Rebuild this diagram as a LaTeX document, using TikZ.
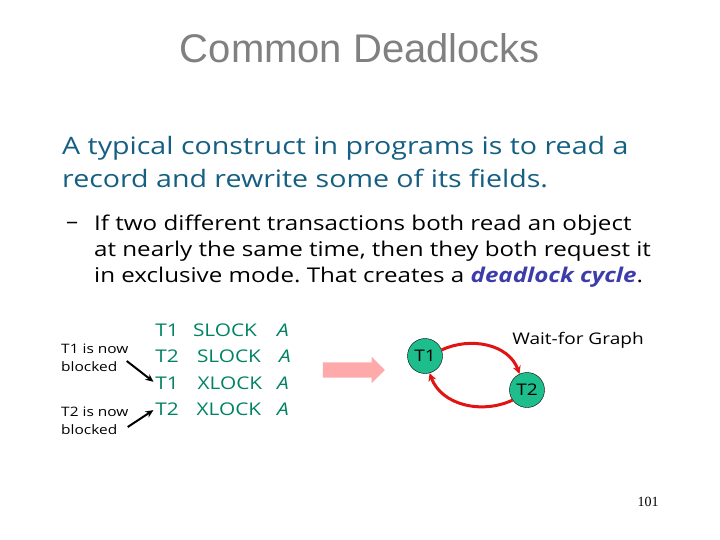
\documentclass[tikz,border=0pt]{standalone}
\usepackage{fontspec}
\setmainfont{Open Sans}[FakeStretch=1.19]
\newfontfamily\titlefont{Liberation Sans}
\newfontfamily\pagefont{Liberation Serif}
\usetikzlibrary{arrows.meta,shapes.arrows}
\frenchspacing

\definecolor{titlegray}{RGB}{128,128,128}
\definecolor{bodyblue}{RGB}{20,95,130}
\definecolor{lockgreen}{RGB}{0,130,100}
\definecolor{nodegreen}{RGB}{30,190,140}
\definecolor{cycleblue}{RGB}{60,60,170}
\definecolor{pinkarrow}{RGB}{255,170,170}
\definecolor{edgered}{RGB}{225,20,20}

\begin{document}
\begin{tikzpicture}[x=1pt, y=-1pt]
	% Stili per testi, nodi e archi
	\tikzset{
		testo/.style={anchor=west, inner sep=0pt},
		riga/.style={inner sep=0pt, text=lockgreen, font=\fontsize{17.5}{20}\selectfont},
		nota/.style={anchor=west, inner sep=0pt, align=left, font=\fontsize{13}{18}\selectfont},
		nodo/.style={circle, draw=black, fill=nodegreen, minimum size=35pt, inner sep=0pt, font=\fontsize{16}{18}\selectfont},
		attesa/.style={draw=edgered, line width=3pt, -{Stealth[length=8pt,width=8pt]}},
		blocco/.style={draw=black, line width=2pt, -{Stealth[length=8pt,width=7pt]}, shorten >=2pt}
	}
	\useasboundingbox (0,0) rectangle (720,540);
	
	% Titolo
	\node[inner sep=0pt, text=titlegray, font=\titlefont\fontsize{40}{44}\selectfont] (titolo) at (360,48) {Common Deadlocks};
	
	% Testo principale
	\node[testo, text=bodyblue, font=\fontsize{24}{26}\selectfont] (corpo1) at (62,148) {A typical construct in programs is to read a};
	\node[testo, text=bodyblue, font=\fontsize{24}{26}\selectfont] (corpo2) at (62,178) {record and rewrite some of its fields.};
	\node[testo, font=\fontsize{20.3}{22}\selectfont] (trattino) at (66,225) {–};
	\node[testo, font=\fontsize{20.3}{22}\selectfont] (punto1) at (94,225) {If two different transactions both read an object};
	\node[testo, font=\fontsize{20.3}{22}\selectfont] (punto2) at (94,251) {at nearly the same time, then they both request it};
	\node[testo, font=\fontsize{20.3}{22}\selectfont] (punto3) at (94,277) {in exclusive mode. That creates a \textcolor{cycleblue}{\bfseries\itshape deadlock cycle}.};
	
	% Sequenza di lock
	\node[riga] (r1t) at (167,330) {T1};
	\node[riga] (r1l) at (225,330) {SLOCK};
	\node[riga] (r1a) at (283,330) {\itshape A};
	\node[riga] (r2t) at (167,356) {T2};
	\node[riga] (r2l) at (229,356) {SLOCK};
	\node[riga] (r2a) at (285,356) {\itshape A};
	\node[riga] (r3t) at (167,383) {T1};
	\node[riga] (r3l) at (230,383) {XLOCK};
	\node[riga] (r3a) at (283,383) {\itshape A};
	\node[riga] (r4t) at (167,409) {T2};
	\node[riga] (r4l) at (229,409) {XLOCK};
	\node[riga] (r4a) at (283,409) {\itshape A};
	
	% Note sui blocchi
	\node[nota] (blk1) at (61,358) {T1 is now\\blocked};
	\node[nota] (blk2) at (61,421) {T2 is now\\blocked};
	\draw[blocco] ([xshift=-2pt,yshift=-3pt]blk1.east) -- (r3t.west);
	\draw[blocco] ([xshift=-1pt,yshift=-6pt]blk2.east) -- (r4t.west);
	
	% Freccia verso il grafo
	\node[single arrow, fill=pinkarrow, minimum height=62pt, minimum width=26pt, inner xsep=0pt, inner ysep=7.5pt, single arrow head extend=5.5pt, single arrow tip angle=90] (passa) at (350,370) {};
	
	% Grafo delle attese
	\node[nodo] (t1) at (425,356) {T1};
	\node[nodo] (t2) at (527,390) {T2};
	\node[inner sep=0pt, font=\fontsize{16}{18}\selectfont] (grafo) at (578,340) {Wait-for Graph};
	\draw[attesa] (t1.20) to[out=25, in=110] (t2.115);
	\draw[attesa] (t2.215) to[out=205, in=290] (t1.285);
	
	% Numero di pagina
	\node[inner sep=0pt, font=\pagefont\fontsize{14}{16}\selectfont] (pagina) at (648,502) {101};
\end{tikzpicture}
\end{document}
